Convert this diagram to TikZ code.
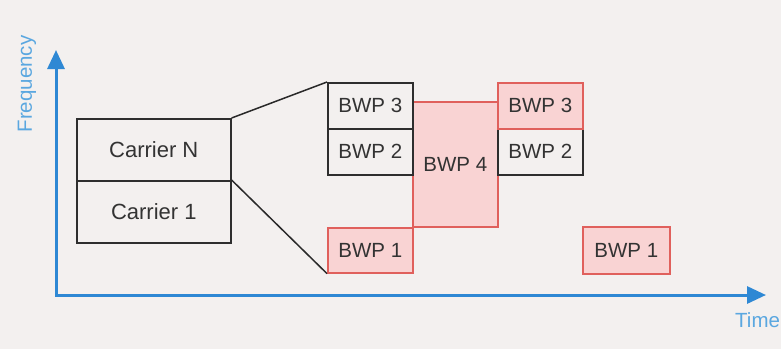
\documentclass[tikz,border=0pt]{standalone}
\usepackage{fontspec}
\setmainfont{Liberation Sans}
\usetikzlibrary{arrows.meta}
\definecolor{bg}{HTML}{F3F0EF}
\definecolor{axisblue}{HTML}{2E88D4}
\definecolor{labelblue}{HTML}{5AA7E0}
\definecolor{redfill}{HTML}{F9D3D3}
\definecolor{redline}{HTML}{E0605C}
\definecolor{txt}{HTML}{333333}
\tikzset{
  box/.style={draw=txt!90!black, line width=1.6pt, fill=bg, anchor=north west, inner sep=0pt, text=txt},
  redbox/.style={box, draw=redline, fill=redfill},
  carrier/.style={font=\fontsize{22}{24}\selectfont},
  bwp/.style={font=\fontsize{20.5}{22}\selectfont},
  axislabel/.style={text=labelblue, font=\fontsize{20.5}{22}\selectfont, inner sep=0pt},
  link/.style={draw=txt!80!black, line width=1.5pt},
}
\begin{document}
\begin{tikzpicture}[x=1pt, y=-1pt]
\fill[bg] (0,0) rectangle (781,349);
\useasboundingbox (0,0) rectangle (781,349);
% axes
\coordinate (origin) at (56,295);
\coordinate (ytip) at (56,50);
\coordinate (xtip) at (766,295);
\draw[axisblue, line width=3pt, {Triangle[length=19pt,width=17pt]}-{Triangle[length=19pt,width=17pt]}] (ytip) -- (origin) -- (xtip);
\node[axislabel, rotate=90] (freq) at (27,84) {Frequency};
\node[axislabel, anchor=west] (time) at (735,320) {Time};
% carriers
\node[box, carrier, minimum width=154pt, minimum height=62pt] (cN) at (76,118) {Carrier N};
\node[box, carrier, minimum width=154pt, minimum height=62pt] (c1) at (76,180) {Carrier 1};
% BWP boxes
\node[redbox, bwp, minimum width=85pt, minimum height=125pt] (b4) at (412,101) {BWP 4};
\node[box, bwp, minimum width=85pt, minimum height=46pt] (b3a) at (327,82) {BWP 3};
\node[box, bwp, minimum width=85pt, minimum height=46pt] (b2a) at (327,128) {BWP 2};
\node[redbox, bwp, minimum width=85pt, minimum height=45pt] (b1a) at (327,227) {BWP 1};
\node[box, bwp, minimum width=85pt, minimum height=46pt] (b2b) at (497,128) {BWP 2};
\node[redbox, bwp, minimum width=85pt, minimum height=46pt] (b3b) at (497,82) {BWP 3};
\node[redbox, bwp, minimum width=87pt, minimum height=47pt] (b1b) at (582,226) {BWP 1};
% connectors
\draw[link] (cN.north east) -- (b3a.north west);
\draw[link] (c1.north east) -- (b1a.south west);
\end{tikzpicture}
\end{document}
